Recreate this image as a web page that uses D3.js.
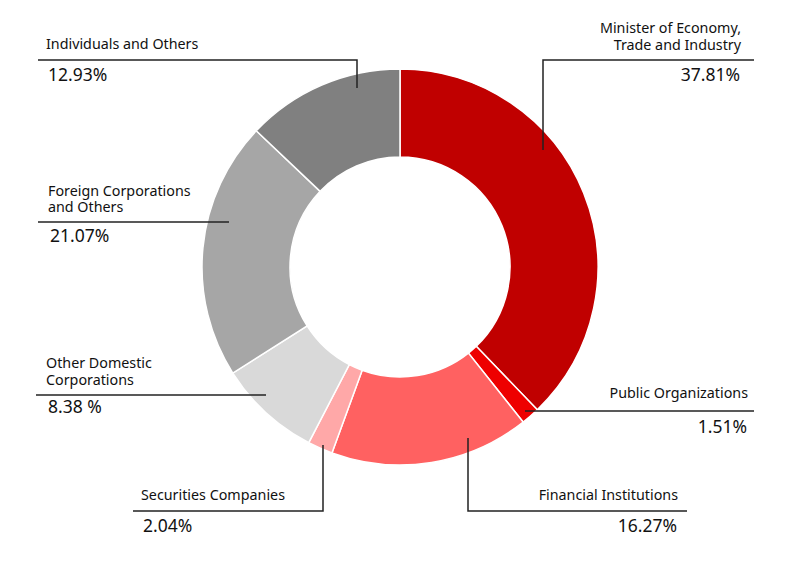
<!DOCTYPE html>
<html>
<head>
<meta charset="utf-8">
<script src="https://cdn.jsdelivr.net/npm/d3@7"></script>
<style>
  html, body { margin: 0; padding: 0; background: #fff; }
  svg { display: block; }
  text { font-family: "Noto Sans", "DejaVu Sans", sans-serif; fill: #111; }
</style>
</head>
<body>
<svg id="chart" width="800" height="562"></svg>
<script>
// ---- data ----
const categories = [
  "Minister of Economy, Trade and Industry",
  "Public Organizations",
  "Financial Institutions",
  "Securities Companies",
  "Other Domestic Corporations",
  "Foreign Corporations and Others",
  "Individuals and Others"
];
const values = [37.81, 1.51, 16.27, 2.04, 8.38, 21.07, 12.93];
const valueLabels = ["37.81%", "1.51%", "16.27%", "2.04%", "8.38 %", "21.07%", "12.93%"];
const labelLines = [
  ["Minister of Economy,", "Trade and Industry"],
  ["Public Organizations"],
  ["Financial Institutions"],
  ["Securities Companies"],
  ["Other Domestic", "Corporations"],
  ["Foreign Corporations", "and Others"],
  ["Individuals and Others"]
];
const colors = ["#c00000", "#ee0000", "#ff6161", "#ffa8a8", "#d9d9d9", "#a6a6a6", "#808080"];

// ---- layout (annotation placement) ----
const cx = 400, cy = 267, outerR = 198, innerR = 110;
const labelLayout = [
  { leader: [[543,150],[543,60],[754,60]], x: 741, anchor: "end",   lines: [33, 50], pct: 81 },
  { leader: [[525,411],[754,411]],         x: 748, anchor: "end",   lines: [398],    pct: 433 },
  { leader: [[468,438],[468,511],[687,511]], x: 678, anchor: "end", lines: [500],    pct: 532 },
  { leader: [[323,445],[323,511],[133,511]], x: 141, anchor: "start", lines: [500],  pct: 532 },
  { leader: [[266,395],[36,395]],          x: 46,  anchor: "start", lines: [368, 385], pct: 413 },
  { leader: [[229,222],[38,222]],          x: 48,  anchor: "start", lines: [196, 212], pct: 242 },
  { leader: [[357,88],[357,60],[38,60]],   x: 46,  anchor: "start", lines: [49],     pct: 81 }
];

const svg = d3.select("#chart");
const data = categories.map((c, i) => ({ name: c, value: values[i], i }));

const pie = d3.pie().value(d => d.value).sort(null);
const arc = d3.arc().innerRadius(innerR).outerRadius(outerR);

const g = svg.append("g").attr("transform", `translate(${cx},${cy})`);
g.selectAll("path.slice")
  .data(pie(data))
  .join("path")
  .attr("class", "slice")
  .attr("d", arc)
  .attr("fill", d => colors[d.data.i])
  .attr("stroke", "#fff")
  .attr("stroke-width", 1.5);

// leader lines
const line = d3.line();
svg.selectAll("path.leader")
  .data(labelLayout)
  .join("path")
  .attr("class", "leader")
  .attr("d", d => line(d.leader))
  .attr("fill", "none")
  .attr("stroke", "#222")
  .attr("stroke-width", 1.5);

// labels
labelLayout.forEach((L, i) => {
  const t = svg.append("text")
    .attr("text-anchor", L.anchor)
    .style("font-size", "14.3px");
  labelLines[i].forEach((s, k) => {
    t.append("tspan").attr("x", L.x).attr("y", L.lines[k]).text(s);
  });
  svg.append("text")
    .attr("x", L.anchor === "start" ? L.x + 2 : L.x - 1).attr("y", L.pct)
    .attr("text-anchor", L.anchor)
    .style("font-size", "17.5px")
    .text(valueLabels[i]);
});
</script>
</body>
</html>
